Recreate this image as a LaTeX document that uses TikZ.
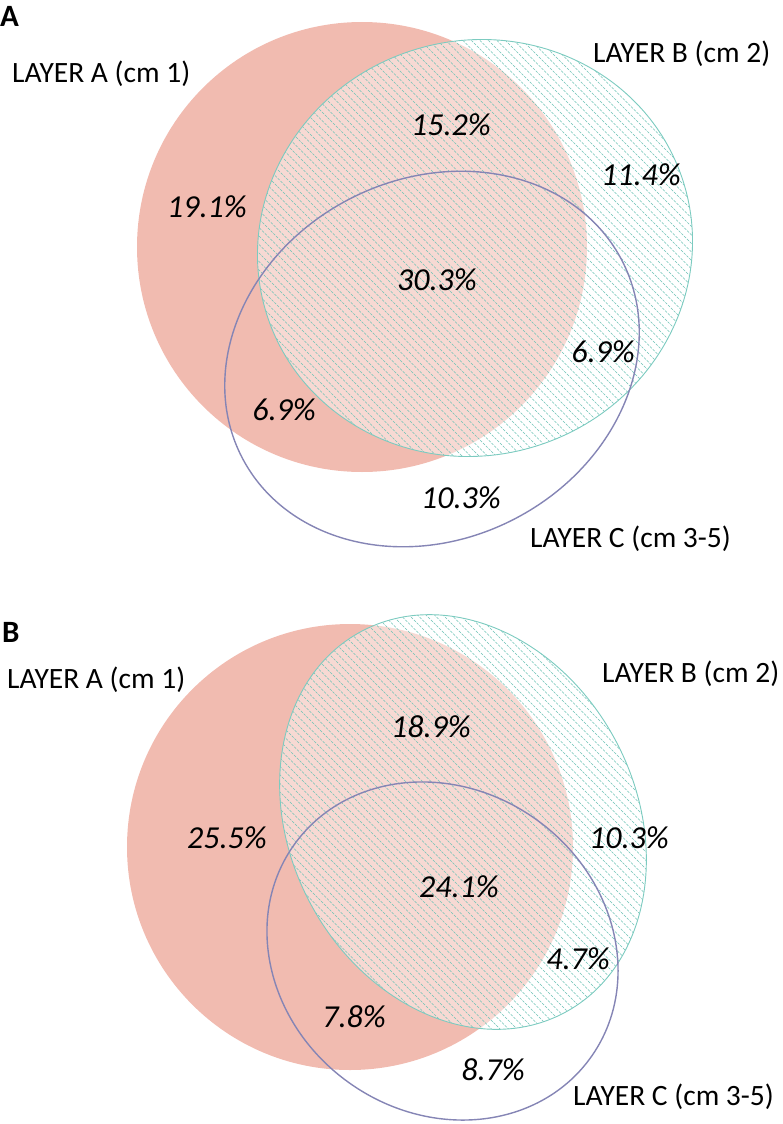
\documentclass[tikz,border=0pt]{standalone}
\usepackage{fontspec}
\setmainfont{Carlito}
\usepackage{xcolor}
\usepackage{tikz}
\definecolor{salmonA}{HTML}{F1BBB0}
\definecolor{tealB}{HTML}{7CCBC0}
\definecolor{hatchB}{HTML}{6CC2B5}
\definecolor{purpleC}{HTML}{8585B5}
\tikzset{layerA/.style={fill=salmonA},
         layerB/.style={draw=tealB,line width=0.9pt},
         veilB/.style={fill=white,fill opacity=0.45},
         layerC/.style={draw=purpleC,line width=1.4pt},
         hatch/.style={hatchB,line width=0.6pt,dash pattern=on 2.6pt off 1.3pt}}

\begin{document}
\begin{tikzpicture}[x=1pt,y=-1pt,
  pct/.style={font=\fontsize{32}{38}\selectfont\itshape,inner sep=0pt,anchor=base},
  lyr/.style={font=\fontsize{29.5}{35}\selectfont,inner sep=0pt,anchor=base west},
  panel/.style={font=\fontsize{31}{36}\selectfont\bfseries,inner sep=0pt,anchor=base west}]
\useasboundingbox (0,0) rectangle (782,1124);
% ---------- panel A
% layer A
\fill[layerA] (362,247) circle (225);
% layer B, hatched
\fill[veilB,rotate around={18.5:(475,248)}] (475,248) ellipse [x radius=218.6,y radius=207.3];
\begin{scope}
\clip[rotate around={18.5:(475,248)}] (475,248) ellipse [x radius=218.6,y radius=207.3];
\foreach \k in {-40,...,40}
  \draw[hatch] ({475+8.5*\k-260},-12) -- ({475+8.5*\k+260},508);
\end{scope}
\draw[layerB,rotate around={18.5:(475,248)}] (475,248) ellipse [x radius=218.6,y radius=207.3];
% layer C
\draw[layerC,rotate around={27.5:(432,359)}] (432,359) ellipse [x radius=214,y radius=180];
% labels
\node[panel] (pA) at (0,27) {A};
\node[lyr] (aA) at (12,82) {LAYER A (cm 1)};
\node[lyr] (aB) at (593,63) {LAYER B (cm 2)};
\node[lyr] (aC) at (530,547) {LAYER C (cm 3-5)};
\node[pct] (aAB) at (451,135) {15.2\%};
\node[pct] (aBo) at (641,185) {11.4\%};
\node[pct] (aAo) at (207,217) {19.1\%};
\node[pct] (aABC) at (437,290) {30.3\%};
\node[pct] (aAC) at (284,420) {6.9\%};
\node[pct] (aBC) at (603,362) {6.9\%};
\node[pct] (aCo) at (461,508) {10.3\%};
% ---------- panel B
% layer A
\fill[layerA] (350,847) circle (223);
% layer B, hatched
\fill[veilB,rotate around={28:(463,822)}] (463,822) ellipse [x radius=173,y radius=216];
\begin{scope}
\clip[rotate around={28:(463,822)}] (463,822) ellipse [x radius=173,y radius=216];
\foreach \k in {-40,...,40}
  \draw[hatch] ({463+8.5*\k-260},562) -- ({463+8.5*\k+260},1082);
\end{scope}
\draw[layerB,rotate around={28:(463,822)}] (463,822) ellipse [x radius=173,y radius=216];
% layer C
\draw[layerC,rotate around={-36:(442.5,951)}] (442.5,951) ellipse [x radius=182.5,y radius=161.5];
% labels
\node[panel] (pB) at (2,642) {B};
\node[lyr] (bA) at (7,688) {LAYER A (cm 1)};
\node[lyr] (bB) at (602,682) {LAYER B (cm 2)};
\node[lyr] (bC) at (573,1105) {LAYER C (cm 3-5)};
\node[pct] (bAB) at (431,737) {18.9\%};
\node[pct] (bAo) at (227,848) {25.5\%};
\node[pct] (bBo) at (629,848) {10.3\%};
\node[pct] (bABC) at (459,897) {24.1\%};
\node[pct] (bBC) at (578,969) {4.7\%};
\node[pct] (bAC) at (354,1027) {7.8\%};
\node[pct] (bCo) at (493,1080) {8.7\%};
\end{tikzpicture}
\end{document}
